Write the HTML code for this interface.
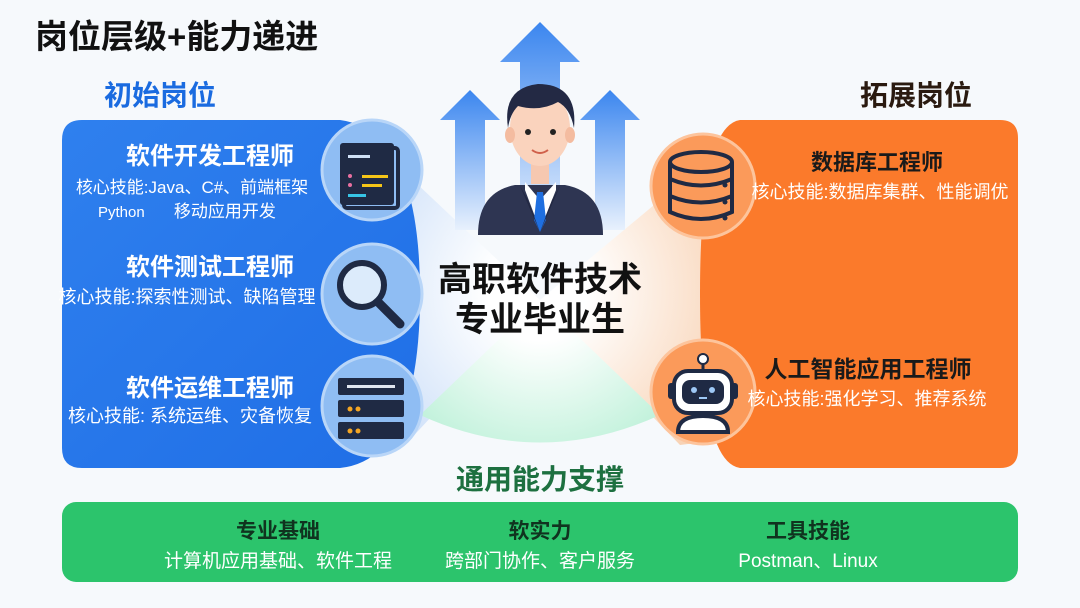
<!DOCTYPE html>
<html><head><meta charset="utf-8"><style>
body{margin:0;width:1080px;height:608px;overflow:hidden;background:#f6f9fc;font-family:"Liberation Sans","Noto Sans CJK SC",sans-serif;position:relative}
.t{position:absolute;white-space:nowrap;font-weight:bold}
.c{transform:translateX(-50%)}
.w{color:#fff}
</style></head><body>
<svg width="1080" height="608" style="position:absolute;left:0;top:0">
<defs>
<linearGradient id="ar" x1="0" y1="0" x2="0" y2="1"><stop offset="0" stop-color="#3b86ef"/><stop offset="1" stop-color="#e8f1fd"/></linearGradient>
<linearGradient id="bl" x1="0" y1="0" x2="1" y2="1"><stop offset="0" stop-color="#2f80ee"/><stop offset="1" stop-color="#1f6ee6"/></linearGradient>
<radialGradient id="wb" cx="540" cy="290" r="260" gradientUnits="userSpaceOnUse"><stop offset="0.2" stop-color="#fff"/><stop offset="1" stop-color="#b9d3f6"/></radialGradient>
<radialGradient id="wo" cx="540" cy="290" r="240" gradientUnits="userSpaceOnUse"><stop offset="0.2" stop-color="#fff"/><stop offset="1" stop-color="#f7caa6"/></radialGradient>
<radialGradient id="wg" cx="540" cy="290" r="170" gradientUnits="userSpaceOnUse"><stop offset="0.3" stop-color="#fff"/><stop offset="1" stop-color="#c3f2dc"/></radialGradient>
</defs>
<rect width="1080" height="608" fill="#f6f9fc"/>
<path d="M540 300 L360 130 L360 460 L405 445 Z" fill="url(#wb)"/>
<path d="M540 300 L720 150 L720 440 L680 445 Z" fill="url(#wo)"/>
<path d="M540 300 L420 415 Q540 470 660 415 Z" fill="url(#wg)"/>
<path d="M500 62 L540 22 L580 62 L560 62 L560 230 L520 230 L520 62 Z" fill="url(#ar)"/>
<path d="M440 120 L470 90 L500 120 L485 120 L485 230 L455 230 L455 120 Z" fill="url(#ar)"/>
<path d="M580 120 L610 90 L640 120 L625 120 L625 230 L595 230 L595 120 Z" fill="url(#ar)"/>
<path d="M82 120 L340 120 Q420 130 420 294 Q420 460 340 468 L82 468 Q62 468 62 448 L62 140 Q62 120 82 120 Z" fill="url(#bl)"/>
<path d="M740 120 L1000 120 Q1018 120 1018 138 L1018 450 Q1018 468 1000 468 L740 468 Q700 462 700 294 Q700 126 740 120 Z" fill="#fb7a2b"/>
<rect x="62" y="502" width="956" height="80" rx="14" fill="#2cc46c"/>
<g fill="#8fbdf3" stroke="#b9d6f8" stroke-width="3">
<circle cx="372" cy="170" r="50"/><circle cx="372" cy="294" r="50"/><circle cx="372" cy="406" r="50"/></g>
<rect x="344" y="148" width="54" height="60" rx="3" fill="none" stroke="#1f2a44" stroke-width="4"/>
<rect x="340" y="143" width="54" height="62" rx="3" fill="#1f2a44"/>
<rect x="348" y="155" width="22" height="3" fill="#cfe0f5"/>
<rect x="362" y="175" width="26" height="3" fill="#f5c518"/><rect x="362" y="184" width="20" height="3" fill="#f5c518"/>
<rect x="348" y="194" width="18" height="3" fill="#37c4e6"/>
<circle cx="350" cy="176" r="2" fill="#e86fa0"/><circle cx="350" cy="185" r="2" fill="#e86fa0"/>
<circle cx="362" cy="285" r="22" fill="#dcebfb" stroke="#1f2a44" stroke-width="6"/>
<line x1="378" y1="302" x2="400" y2="324" stroke="#1f2a44" stroke-width="9" stroke-linecap="round"/>
<rect x="338" y="378" width="66" height="17" rx="2" fill="#1f2a44"/><rect x="347" y="385" width="48" height="3" fill="#e0e6f0"/>
<rect x="338" y="400" width="66" height="17" rx="2" fill="#1f2a44"/><circle cx="350" cy="409" r="2.5" fill="#f5a623"/><circle cx="358" cy="409" r="2.5" fill="#f5a623"/>
<rect x="338" y="422" width="66" height="17" rx="2" fill="#1f2a44"/><circle cx="350" cy="431" r="2.5" fill="#f5a623"/><circle cx="358" cy="431" r="2.5" fill="#f5a623"/>
<g fill="#fb9a5a" stroke="#fdc49c" stroke-width="3">
<circle cx="703" cy="186" r="52"/><circle cx="703" cy="392" r="52"/></g>
<g fill="none" stroke="#1f2a44" stroke-width="4">
<ellipse cx="701" cy="162" rx="31" ry="10"/>
<path d="M670 162 V212 Q701 226 732 212 V162"/>
<path d="M670 179 Q701 192 732 179"/><path d="M670 196 Q701 209 732 196"/></g>
<circle cx="725" cy="185" r="2.5" fill="#1f2a44"/><circle cx="725" cy="202" r="2.5" fill="#1f2a44"/><circle cx="725" cy="218" r="2.5" fill="#1f2a44"/>
<circle cx="703" cy="359" r="5" fill="#fff" stroke="#1f2a44" stroke-width="2"/><line x1="703" y1="364" x2="703" y2="372" stroke="#1f2a44" stroke-width="3"/>
<rect x="674" y="371" width="58" height="42" rx="14" fill="#fff" stroke="#1f2a44" stroke-width="4"/>
<rect x="682" y="380" width="42" height="24" rx="8" fill="#1f2a44"/>
<circle cx="694" cy="390" r="3" fill="#9ec8f5"/><circle cx="712" cy="390" r="3" fill="#9ec8f5"/><rect x="699" y="397" width="8" height="2" fill="#9ec8f5"/>
<rect x="668" y="383" width="7" height="16" rx="3" fill="#1f2a44"/><rect x="731" y="383" width="7" height="16" rx="3" fill="#1f2a44"/>
<path d="M678 432 Q678 416 703 416 Q728 416 728 432 Z" fill="#fff" stroke="#1f2a44" stroke-width="4"/>
<path d="M478 235 Q478 192 515 185 L565 185 Q603 192 603 235 Z" fill="#2e3552"/>
<path d="M525 182 L540 200 L556 182 L556 190 L540 230 L525 190 Z" fill="#fff"/>
<path d="M537 192 L543 192 L546 220 L540 232 L534 220 Z" fill="#1f6fe0"/>
<path d="M520 186 L540 232 L528 200 Z" fill="#232944"/><path d="M560 186 L540 232 L552 200 Z" fill="#232944"/>
<rect x="531" y="160" width="18" height="24" fill="#f6c8b0"/>
<ellipse cx="540" cy="128" rx="30" ry="38" fill="#fad3bd"/>
<ellipse cx="510" cy="135" rx="5" ry="8" fill="#f4bca0"/><ellipse cx="570" cy="135" rx="5" ry="8" fill="#f4bca0"/>
<path d="M508 128 Q502 88 538 84 Q578 84 574 128 Q570 108 558 102 Q540 112 518 106 Q510 114 508 128 Z" fill="#232944"/>
<circle cx="528" cy="132" r="3" fill="#222"/><circle cx="553" cy="132" r="3" fill="#222"/>
<path d="M532 150 Q540 156 548 150" stroke="#d0604a" stroke-width="2" fill="none"/>
</svg>
<div class="t" style="left:35px;top:10px;font-size:33px;color:#111">岗位层级+能力递进</div>
<div class="t" style="left:104px;top:74px;font-size:28px;color:#1a6be0">初始岗位</div>
<div class="t" style="left:860px;top:74px;font-size:28px;color:#2a1a10">拓展岗位</div>

<div class="t w c" style="left:210px;top:136px;font-size:24px">软件开发工程师</div>
<div class="t w c" style="left:192px;top:173px;font-size:17px;font-weight:normal">核心技能:Java、C#、前端框架</div>
<div class="t w" style="left:98px;top:197px;font-size:15px;font-weight:normal">Python&nbsp;&nbsp;&nbsp;&nbsp;&nbsp;&nbsp;&nbsp;<span style="font-size:17px">移动应用开发</span></div>
<div class="t w c" style="left:210px;top:247px;font-size:24px">软件测试工程师</div>
<div class="t w c" style="left:187px;top:283px;font-size:18px;font-weight:normal">核心技能:探索性测试、缺陷管理</div>
<div class="t w c" style="left:210px;top:368px;font-size:24px">软件运维工程师</div>
<div class="t w c" style="left:190px;top:402px;font-size:18px;font-weight:normal">核心技能: 系统运维、灾备恢复</div>

<div class="t c" style="left:877px;top:145px;font-size:22px;color:#1a1a1a">数据库工程师</div>
<div class="t w c" style="left:880px;top:178px;font-size:18px;font-weight:normal">核心技能:数据库集群、性能调优</div>
<div class="t c" style="left:868px;top:350px;font-size:23px;color:#1a1a1a">人工智能应用工程师</div>
<div class="t w c" style="left:867px;top:385px;font-size:18px;font-weight:normal">核心技能:强化学习、推荐系统</div>

<div class="t c" style="left:540px;top:252px;font-size:34px;color:#111">高职软件技术</div>
<div class="t c" style="left:540px;top:292px;font-size:34px;color:#111">专业毕业生</div>
<div class="t c" style="left:540px;top:458px;font-size:28px;color:#1d7040">通用能力支撑</div>

<div class="t c" style="left:278px;top:515px;font-size:21px;color:#10331f">专业基础</div>
<div class="t w c" style="left:278px;top:546px;font-size:19px;font-weight:normal">计算机应用基础、软件工程</div>
<div class="t c" style="left:540px;top:515px;font-size:21px;color:#10331f">软实力</div>
<div class="t w c" style="left:540px;top:546px;font-size:19px;font-weight:normal">跨部门协作、客户服务</div>
<div class="t c" style="left:808px;top:515px;font-size:21px;color:#10331f">工具技能</div>
<div class="t w c" style="left:808px;top:546px;font-size:19px;font-weight:normal">Postman、Linux</div>
</body></html>
